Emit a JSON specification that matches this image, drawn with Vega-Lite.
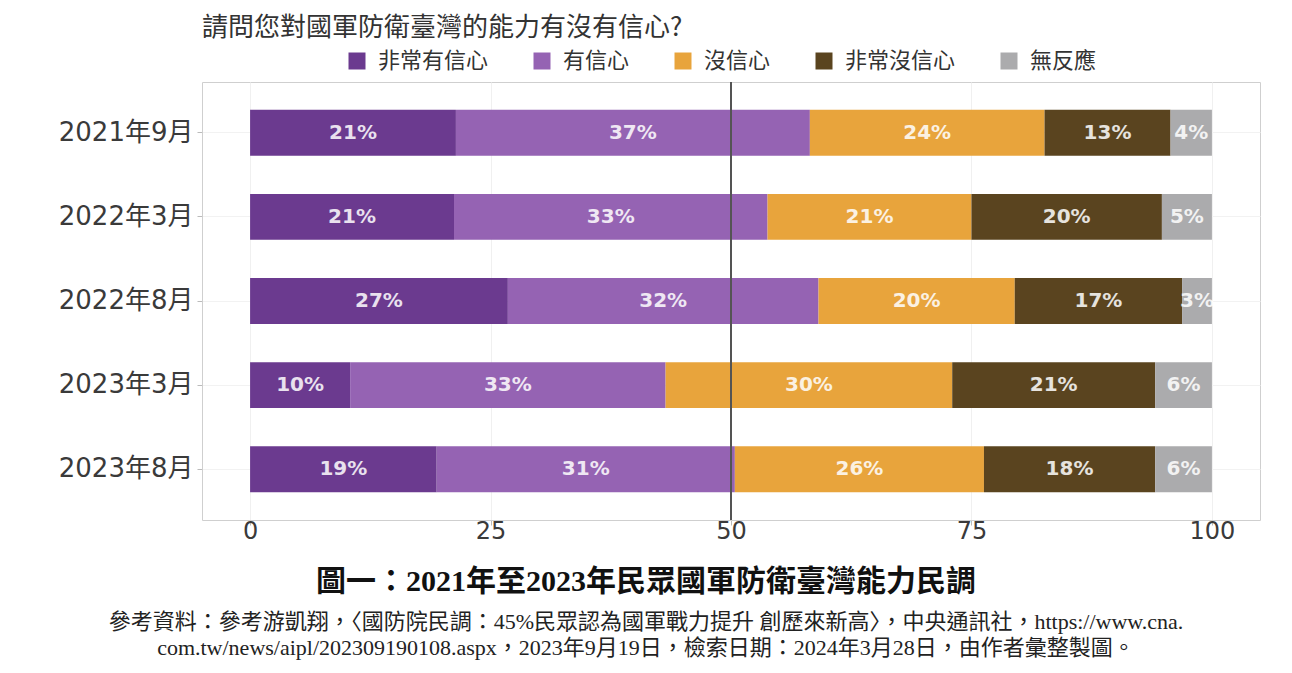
{
  "$schema": "https://vega.github.io/schema/vega-lite/v6.json",
  "background": "white",
  "padding": {"left": 57, "top": 14, "right": 0, "bottom": 0},
  "autosize": {"type": "pad"},
  "spacing": 23,
  "datasets": {
    "survey": [
      {"period": "2021年9月", "category": "非常有信心", "k": 1, "value": 21.4, "label": "21%"},
      {"period": "2021年9月", "category": "有信心", "k": 2, "value": 36.8, "label": "37%"},
      {"period": "2021年9月", "category": "沒信心", "k": 3, "value": 24.4, "label": "24%"},
      {"period": "2021年9月", "category": "非常沒信心", "k": 4, "value": 13.1, "label": "13%"},
      {"period": "2021年9月", "category": "無反應", "k": 5, "value": 4.3, "label": "4%"},
      {"period": "2022年3月", "category": "非常有信心", "k": 1, "value": 21.2, "label": "21%"},
      {"period": "2022年3月", "category": "有信心", "k": 2, "value": 32.6, "label": "33%"},
      {"period": "2022年3月", "category": "沒信心", "k": 3, "value": 21.2, "label": "21%"},
      {"period": "2022年3月", "category": "非常沒信心", "k": 4, "value": 19.8, "label": "20%"},
      {"period": "2022年3月", "category": "無反應", "k": 5, "value": 5.2, "label": "5%"},
      {"period": "2022年8月", "category": "非常有信心", "k": 1, "value": 26.8, "label": "27%"},
      {"period": "2022年8月", "category": "有信心", "k": 2, "value": 32.3, "label": "32%"},
      {"period": "2022年8月", "category": "沒信心", "k": 3, "value": 20.4, "label": "20%"},
      {"period": "2022年8月", "category": "非常沒信心", "k": 4, "value": 17.4, "label": "17%"},
      {"period": "2022年8月", "category": "無反應", "k": 5, "value": 3.1, "label": "3%"},
      {"period": "2023年3月", "category": "非常有信心", "k": 1, "value": 10.4, "label": "10%"},
      {"period": "2023年3月", "category": "有信心", "k": 2, "value": 32.8, "label": "33%"},
      {"period": "2023年3月", "category": "沒信心", "k": 3, "value": 29.8, "label": "30%"},
      {"period": "2023年3月", "category": "非常沒信心", "k": 4, "value": 21.1, "label": "21%"},
      {"period": "2023年3月", "category": "無反應", "k": 5, "value": 5.9, "label": "6%"},
      {"period": "2023年8月", "category": "非常有信心", "k": 1, "value": 19.4, "label": "19%"},
      {"period": "2023年8月", "category": "有信心", "k": 2, "value": 31.0, "label": "31%"},
      {"period": "2023年8月", "category": "沒信心", "k": 3, "value": 25.9, "label": "26%"},
      {"period": "2023年8月", "category": "非常沒信心", "k": 4, "value": 17.8, "label": "18%"},
      {"period": "2023年8月", "category": "無反應", "k": 5, "value": 5.9, "label": "6%"}
    ]
  },
  "vconcat": [
    {
      "width": 1058,
      "height": 438,
      "data": {"name": "survey"},
      "title": {
        "text": "請問您對國軍防衛臺灣的能力有沒有信心?",
        "anchor": "start",
        "frame": "group",
        "font": "Noto Sans CJK TC",
        "fontSize": 26,
        "fontWeight": "normal",
        "color": "#333333",
        "offset": 40
      },
      "layer": [
        {
          "mark": {"type": "bar"},
          "encoding": {
            "y": {
              "field": "period",
              "type": "nominal",
              "sort": ["2021年9月", "2022年3月", "2022年8月", "2023年3月", "2023年8月"],
              "scale": {"paddingInner": 0.455, "paddingOuter": 0.33},
              "axis": {
                "title": null,
                "domain": false,
                "labelFont": "DejaVu Sans, Noto Sans CJK TC",
                "labelFontSize": 26,
                "labelColor": "#3a3a3a",
                "labelPadding": 4,
                "tickColor": "#bbbbbb",
                "tickSize": 5,
                "grid": true,
                "gridColor": "#f2f2f2"
              }
            },
            "x": {
              "field": "value",
              "type": "quantitative",
              "stack": "zero",
              "scale": {"domain": [-5, 105], "nice": false, "zero": false},
              "axis": {
                "title": null,
                "values": [0, 25, 50, 75, 100],
                "domain": false,
                "labelFont": "DejaVu Sans",
                "labelFontSize": 24,
                "labelColor": "#3a3a3a",
                "labelPadding": -6,
                "tickColor": "#bbbbbb",
                "tickSize": 5,
                "grid": true,
                "gridColor": "#f0f0f0"
              }
            },
            "color": {
              "field": "category",
              "type": "nominal",
              "scale": {
                "domain": ["非常有信心", "有信心", "沒信心", "非常沒信心", "無反應"],
                "range": ["#6b3a8f", "#9563b3", "#e8a43c", "#5a441f", "#ababad"]
              },
              "legend": {
                "title": null,
                "orient": "none",
                "legendX": 144,
                "legendY": -32,
                "direction": "horizontal",
                "columns": 5,
                "symbolType": "square",
                "symbolSize": 289,
                "symbolStrokeWidth": 0,
                "symbolOpacity": 1,
                "labelFont": "Noto Sans CJK TC",
                "labelFontSize": 22,
                "labelColor": "#333333",
                "labelOffset": 10,
                "columnPadding": 42
              }
            },
            "order": {"field": "k", "type": "quantitative"}
          }
        },
        {
          "transform": [
            {"stack": "value", "groupby": ["period"], "sort": [{"field": "k", "order": "ascending"}], "as": ["x0", "x1"]},
            {"fold": ["x0", "x1"], "as": ["edge", "pos"]},
            {"aggregate": [{"op": "mean", "field": "pos", "as": "mid"}], "groupby": ["period", "category", "label"]}
          ],
          "mark": {
            "type": "text",
            "font": "DejaVu Sans",
            "fontSize": 20,
            "fontWeight": "bold",
            "color": "white",
            "opacity": 0.85,
            "align": "center",
            "baseline": "middle"
          },
          "encoding": {
            "y": {
              "field": "period",
              "type": "nominal",
              "sort": ["2021年9月", "2022年3月", "2022年8月", "2023年3月", "2023年8月"]
            },
            "x": {"field": "mid", "type": "quantitative"},
            "text": {"field": "label"}
          }
        },
        {
          "mark": {"type": "rule", "color": "#555555", "strokeWidth": 1.5},
          "encoding": {"x": {"datum": 50}}
        }
      ]
    },
    {
      "width": 888,
      "height": 10,
      "view": {"stroke": null},
      "data": {"values": [{"note": ""}]},
      "mark": {"type": "text"},
      "encoding": {"text": {"field": "note"}},
      "title": {
        "text": "圖一：2021年至2023年民眾國軍防衛臺灣能力民調",
        "subtitle": [
          "參考資料：參考游凱翔，〈國防院民調：45%民眾認為國軍戰力提升 創歷來新高〉，中央通訊社，https://www.cna.",
          "com.tw/news/aipl/202309190108.aspx，2023年9月19日，檢索日期：2024年3月28日，由作者彙整製圖。"
        ],
        "anchor": "middle",
        "frame": "group",
        "font": "Liberation Serif, Noto Sans CJK TC",
        "fontSize": 30,
        "fontWeight": "bold",
        "color": "#111111",
        "subtitleFont": "Liberation Serif, Noto Sans CJK TC",
        "subtitleFontSize": 22,
        "subtitleColor": "#222222",
        "subtitlePadding": 15,
        "subtitleLineHeight": 26
      }
    }
  ],
  "config": {
    "view": {"stroke": "#cfcfcf", "strokeWidth": 1}
  }
}
